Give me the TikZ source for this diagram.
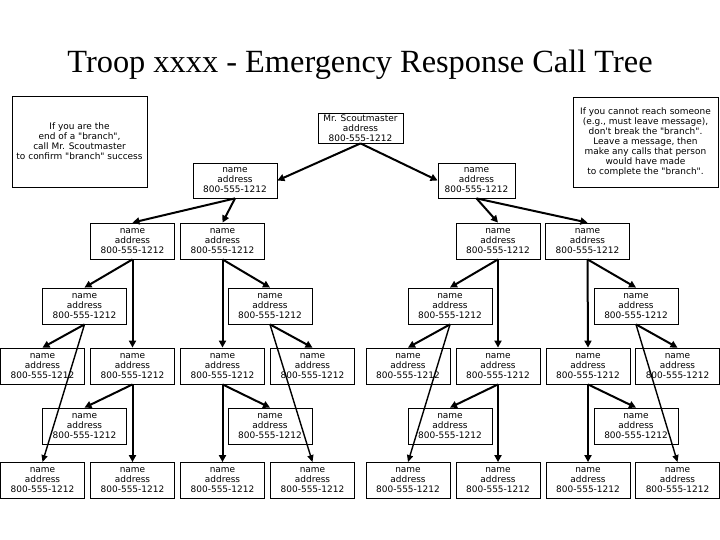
\documentclass[tikz,border=0pt]{standalone}
\usepackage{fontspec}
\setmainfont{Liberation Serif}
\newfontfamily\boxfont{DejaVu Sans}
\usetikzlibrary{arrows.meta}

\begin{document}
\begin{tikzpicture}[x=1bp,y=-1bp,
  person/.style={draw, line width=0.8bp, minimum width=84bp, minimum height=36bp, inner sep=1bp, align=center, font=\boxfont\fontsize{9}{10}\selectfont},
  note/.style={draw, line width=0.8bp, inner sep=1bp, align=center, font=\boxfont\fontsize{9}{10}\selectfont},
  call/.style={line width=2bp, -{Triangle[length=7bp,width=7bp]}},
  longcall/.style={line width=1.4bp, -{Triangle[length=7bp,width=6bp]}}]
\useasboundingbox (0,0) rectangle (720,540);
\node[anchor=base, font=\fontsize{32.5}{36}\selectfont] (title) at (360,73) {Troop xxxx - Emergency Response Call Tree};
% notes
\node[note, minimum width=135bp, minimum height=91bp] (endnote) at (79.5,141.5) {If you are the\\end of a "branch",\\call Mr. Scoutmaster\\to confirm "branch" success};
\node[note, minimum width=145bp, minimum height=90bp] (missnote) at (645.5,142) {If you cannot reach someone\\(e.g., must leave message),\\don't break the "branch".\\Leave a message, then\\make any calls that person\\would have made\\to complete the "branch".};
% top of the tree
\node[person, minimum width=85bp, minimum height=30bp] (sm) at (360.5,128) {Mr. Scoutmaster\\address\\800-555-1212};
\node[person, minimum height=35bp] (a) at (235,180.5) {name\\address\\800-555-1212};
\node[person, minimum width=77bp, minimum height=35bp] (b) at (476.5,180.5) {name\\address\\800-555-1212};
% level 2
\node[person] (n2a) at (132.5,241) {name\\address\\800-555-1212};
\node[person] (n2b) at (222.5,241) {name\\address\\800-555-1212};
\node[person] (n2c) at (498,241) {name\\address\\800-555-1212};
\node[person] (n2d) at (587.5,241) {name\\address\\800-555-1212};
% level 3
\node[person] (n3a) at (84.5,306) {name\\address\\800-555-1212};
\node[person] (n3b) at (270,306) {name\\address\\800-555-1212};
\node[person] (n3c) at (450,306) {name\\address\\800-555-1212};
\node[person] (n3d) at (636,306) {name\\address\\800-555-1212};
% level 4
\node[person] (n4a) at (42.5,366) {name\\address\\800-555-1212};
\node[person] (n4b) at (132.5,366) {name\\address\\800-555-1212};
\node[person] (n4c) at (222.5,366) {name\\address\\800-555-1212};
\node[person] (n4d) at (312.5,366) {name\\address\\800-555-1212};
\node[person] (n4e) at (408,366) {name\\address\\800-555-1212};
\node[person] (n4f) at (498,366) {name\\address\\800-555-1212};
\node[person] (n4g) at (588,366) {name\\address\\800-555-1212};
\node[person] (n4h) at (677.5,366) {name\\address\\800-555-1212};
% level 5
\node[person] (n5a) at (84.5,426) {name\\address\\800-555-1212};
\node[person] (n5b) at (270,426) {name\\address\\800-555-1212};
\node[person] (n5c) at (450,426) {name\\address\\800-555-1212};
\node[person] (n5d) at (636,426) {name\\address\\800-555-1212};
% level 6
\node[person] (n6a) at (42.5,480.5) {name\\address\\800-555-1212};
\node[person] (n6b) at (132.5,480.5) {name\\address\\800-555-1212};
\node[person] (n6c) at (222.5,480.5) {name\\address\\800-555-1212};
\node[person] (n6d) at (312.5,480.5) {name\\address\\800-555-1212};
\node[person] (n6e) at (408,480.5) {name\\address\\800-555-1212};
\node[person] (n6f) at (498,480.5) {name\\address\\800-555-1212};
\node[person] (n6g) at (588,480.5) {name\\address\\800-555-1212};
\node[person] (n6h) at (677.5,480.5) {name\\address\\800-555-1212};
% calls
\draw[call] (sm.south) -- (a.east);
\draw[call] (sm.south) -- (b.west);
\draw[call] (a.south) -- (n2a.north);
\draw[call] (a.south) -- (n2b.north);
\draw[call] (b.south) -- (n2c.north);
\draw[call] (b.south) -- (n2d.north);
% left branch
\draw[call] (n2a.south) -- (n3a.north);
\draw[call] (n2a.south) -- (n4b.north);
\draw[call] (n2b.south) -- (n3b.north);
\draw[call] (n2b.south) -- (n4c.north);
\draw[call] (n3a.south) -- (n4a.north);
\draw[longcall] (n3a.south) -- (n6a.north);
\draw[call] (n4b.south) -- (n5a.north);
\draw[call] (n4b.south) -- (n6b.north);
\draw[call] (n3b.south) -- (n4d.north);
\draw[longcall] (n3b.south) -- (n6d.north);
\draw[call] (n4c.south) -- (n5b.north);
\draw[call] (n4c.south) -- (n6c.north);
% right branch
\draw[call] (n2c.south) -- (n3c.north);
\draw[call] (n2c.south) -- (n4f.north);
\draw[call] (n2d.south) -- (n3d.north);
\draw[call] (n2d.south) -- (n4g.north);
\draw[call] (n3c.south) -- (n4e.north);
\draw[longcall] (n3c.south) -- (n6e.north);
\draw[call] (n4f.south) -- (n5c.north);
\draw[call] (n4f.south) -- (n6f.north);
\draw[call] (n3d.south) -- (n4h.north);
\draw[longcall] (n3d.south) -- (n6h.north);
\draw[call] (n4g.south) -- (n5d.north);
\draw[call] (n4g.south) -- (n6g.north);
\end{tikzpicture}
\end{document}
